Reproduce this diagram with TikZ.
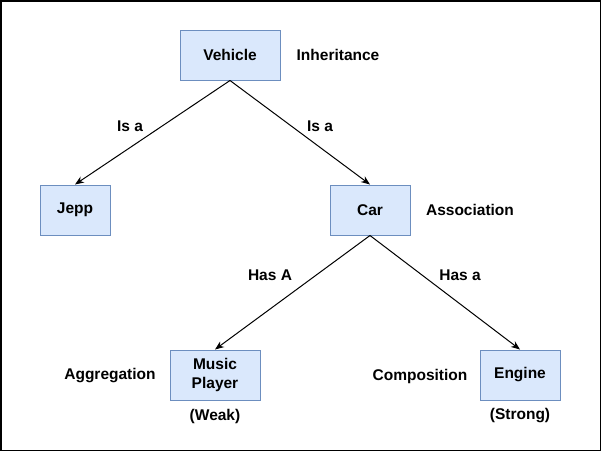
\documentclass[tikz,border=0pt]{standalone}
\usepackage{fontspec}
\setmainfont{Liberation Sans}
\usetikzlibrary{arrows.meta}
\definecolor{boxfill}{HTML}{DAE8FC}
\definecolor{boxline}{HTML}{6C8EBF}
\tikzstyle{classbox} = [draw=boxline, fill=boxfill, rectangle, line width=1pt, minimum width=#1,
    minimum height=50pt, align=center, font=\fontsize{15.5}{19}\selectfont\bfseries]
\tikzstyle{tag} = [font=\fontsize{15.5}{19}\selectfont\bfseries]
\tikzstyle{link} = [draw=black, line width=1pt, -{Stealth[length=9pt,width=7pt]}]

\begin{document}
\begin{tikzpicture}[x=1pt, y=-1pt]
                \draw[line width=1.5pt] (0.75,0.75) rectangle (600.25,450.25);
                \node [classbox=100pt] (vehicle) at (230,55) {Vehicle};
                \node [classbox=70pt] (jepp) at (75,210) {Jepp};
                \node [classbox=80pt] (car) at (370,210) {Car};
                \node [classbox=90pt] (player) at (215,375) {Music\\Player};
                \node [classbox=80pt] (engine) at (520,375) {Engine};
                \draw[link] (vehicle.south) -- (jepp.north);
                \draw[link] (vehicle.south) -- (car.north);
                \draw[link] (car.south) -- (player.north);
                \draw[link] (car.south) -- (engine.north);
                \node[tag] (isa1) at (130,126) {Is a};
                \node[tag] (isa2) at (320,126) {Is a};
                \node[tag] (hasa1) at (270,275) {Has A};
                \node[tag] (hasa2) at (460,275) {Has a};
                \node[tag] (inherit) at (338,55) {Inheritance};
                \node[tag] (assoc) at (470,210) {Association};
                \node[tag] (aggr) at (110,376) {Aggregation};
                \node[tag] (compo) at (420,376) {Composition};
                \node[tag] (weak) at (215,416) {(Weak)};
                \node[tag] (strong) at (520,416) {(Strong)};
            \end{tikzpicture}
\end{document}
